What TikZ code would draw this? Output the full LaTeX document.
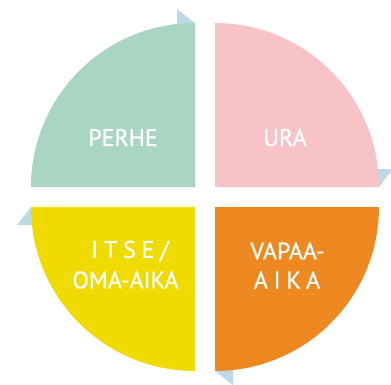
\documentclass[tikz,border=0pt]{standalone}
\usepackage{fontspec}
\setmainfont{PT Sans}
\newfontfamily\lblfont[FakeBold=0.8]{PT Sans}
\definecolor{cgreen}{RGB}{168,214,195}
\definecolor{cpink}{RGB}{247,195,198}
\definecolor{corange}{RGB}{238,137,34}
\definecolor{cyellow}{RGB}{240,219,0}
\definecolor{cblue}{RGB}{187,218,230}
\tikzset{
  quarter/.style={draw=none},
  arrowtri/.style={fill=cblue, draw=none},
  lbl/.style={text=white, font=\lblfont\fontsize{24}{26}\selectfont, align=center, inner sep=0pt},
  spaced/.style={lbl, font=\lblfont\fontsize{24}{26}\selectfont\addfontfeature{LetterSpace=24}}
}
\begin{document}
\begin{tikzpicture}[x=1pt,y=1pt]
\useasboundingbox (0,0) rectangle (391,384);
\clip (0,0) rectangle (391,384);
% arrowheads (behind the quarters)
\fill[arrowtri] (195,361) -- (177,375) -- (177,347) -- cycle;
\fill[arrowtri] (379,197) -- (393,215) -- (365,215) -- cycle;
\fill[arrowtri] (215,13) -- (233,-1) -- (233,27) -- cycle;
\fill[arrowtri] (31,177) -- (17,159) -- (45,159) -- cycle;
% quarters
\fill[quarter, cgreen] (195,197) -- ++(-164,0) arc[start angle=180,end angle=90,radius=164] -- cycle;
\fill[quarter, cpink] (215,197) -- ++(0,164) arc[start angle=90,end angle=0,radius=164] -- cycle;
\fill[quarter, corange] (215,177) -- ++(164,0) arc[start angle=0,end angle=-90,radius=164] -- cycle;
\fill[quarter, cyellow] (195,177) -- ++(0,-164) arc[start angle=270,end angle=180,radius=164] -- cycle;
% labels
\node[lbl] (perhe) at (123,246.5) {PERHE};
\node[lbl] (ura) at (285,246.5) {URA};
\node[spaced] (itse) at (130,133) {ITSE/};
\node[lbl] (oma) at (125.5,104) {OMA-AIKA};
\node[lbl] (vapaa) at (287.5,133) {VAPAA-};
\node[spaced] (aika) at (287,104) {AIKA};
\end{tikzpicture}
\end{document}
